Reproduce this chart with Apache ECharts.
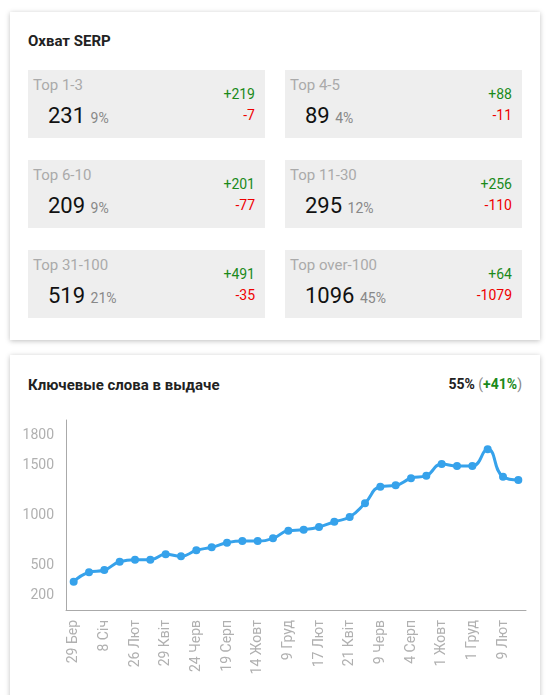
<!DOCTYPE html><html><head><meta charset="utf-8">
<script src="https://cdn.jsdelivr.net/npm/echarts@6/dist/echarts.min.js"></script>
<style>
body{margin:0;width:548px;height:695px;background:#fff;font-family:Roboto,sans-serif;position:relative;overflow:hidden}
.card{position:absolute;left:10px;width:530px;background:#fff;box-shadow:0 1px 5px rgba(0,0,0,.25)}
.h{position:absolute;left:18px;font-size:15px;font-weight:bold;color:#222}
.box{position:absolute;width:237px;height:68px;background:#eeeeee}
.lab{position:absolute;left:5px;top:6px;font-size:15px;color:#aaa}
.val{position:absolute;left:20px;top:33px;font-size:22px;color:#111}
.val span{font-size:14px;color:#888}
.p{position:absolute;right:10px;top:16px;font-size:14px;color:#1a8a1a}
.m{position:absolute;right:10px;top:37px;font-size:14px;color:#e00}
</style></head><body>
<div class="card" style="top:12px;height:328px"><div class="h" style="top:20px">Охват SERP</div><div id="boxes"></div></div>
<div class="card" style="top:355px;height:345px"><div class="h" style="top:21px">Ключевые слова в выдаче</div>
<div style="position:absolute;right:18px;top:21px;font-size:14px;font-weight:bold;color:#222">55% <span style="color:#888;font-weight:normal">(</span><span style="color:#1a8a1a">+41%</span><span style="color:#888;font-weight:normal">)</span></div></div>
<div id="c" style="position:absolute;left:0;top:355px;width:548px;height:340px"></div>
<script>
const boxLabels=["Top 1-3","Top 4-5","Top 6-10","Top 11-30","Top 31-100","Top over-100"];
const boxValues=[231,89,209,295,519,1096];
const boxPct=["9%","4%","9%","12%","21%","45%"];
const boxPlus=["+219","+88","+201","+256","+491","+64"];
const boxMinus=["-7","-11","-77","-110","-35","-1079"];
const categories=["29 Бер","27 Лист","8 Січ","29 Січ","26 Лют","26 Бер","29 Квіт","27 Трав","24 Черв","22 Лип","19 Серп","16 Вер","14 Жовт","11 Лист","9 Груд","13 Січ","17 Лют","24 Бер","21 Квіт","12 Трав","9 Черв","7 Лип","4 Серп","1 Вер","1 Жовт","1 Лист","1 Груд","10 Січ","9 Лют","9 Бер"];
const values=[333,427,450,533,553,553,607,587,647,677,723,740,740,767,843,853,880,933,980,1117,1283,1297,1367,1393,1510,1490,1490,1657,1383,1350];
const yTicks=[200,500,1000,1500,1800];
let html="";
boxLabels.forEach((l,i)=>{const x=18+(i%2)*257,y=58+Math.floor(i/2)*90;
html+=`<div class="box" style="left:${x}px;top:${y}px"><div class="lab">${l}</div><div class="val">${boxValues[i]} <span>${boxPct[i]}</span></div><div class="p">${boxPlus[i]}</div><div class="m">${boxMinus[i]}</div></div>`;});
document.getElementById('boxes').innerHTML=html;
const ch=echarts.init(document.getElementById('c'));
ch.setOption({animation:false,grid:{left:66,right:22,top:65,bottom:85},
xAxis:{type:'category',data:categories,boundaryGap:true,axisLine:{lineStyle:{color:'#aaa'}},axisTick:{alignWithLabel:true,interval:0,length:4,lineStyle:{color:'#aaa'}},
axisLabel:{rotate:90,interval:1,color:'#b0b0b0',fontSize:14,fontFamily:'Roboto',margin:10}},
yAxis:{type:'value',min:50,max:1950,splitLine:{show:false},axisLine:{show:true,lineStyle:{color:'#aaa'}},axisTick:{show:false},
axisLabel:{customValues:yTicks,formatter:v=>String(v),color:'#b0b0b0',fontSize:14,fontFamily:'Roboto',margin:12}},
series:[{type:'line',data:values,smooth:true,symbol:'circle',symbolSize:8,itemStyle:{color:'#36a2eb'},lineStyle:{width:3,color:'#36a2eb'}}]});
</script></body></html>
